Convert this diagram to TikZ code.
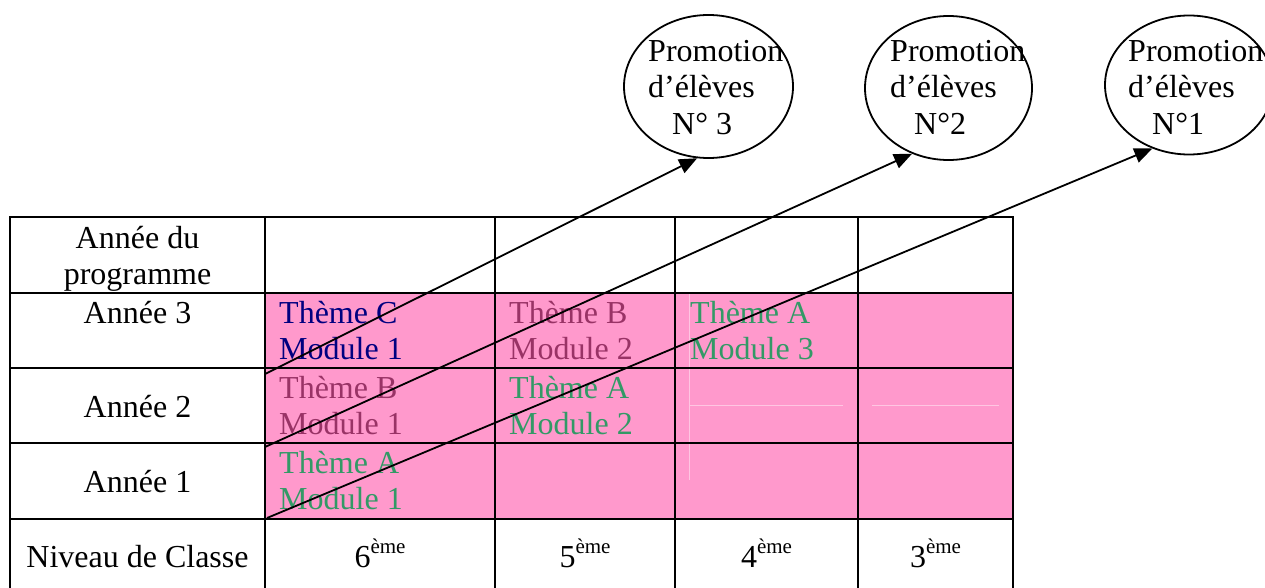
\documentclass[tikz,border=0pt]{standalone}
\usepackage{fontspec}
\setmainfont{Liberation Serif}
\usetikzlibrary{arrows.meta,shapes.geometric}
\definecolor{pinkfill}{HTML}{FF99CC}
\definecolor{navytxt}{HTML}{000080}
\definecolor{plumtxt}{HTML}{993366}
\definecolor{greentxt}{HTML}{339966}
\definecolor{faintline}{HTML}{FFC6E2}
\newcommand{\eme}{\raisebox{14pt}{\fontsize{21}{21}\selectfont ème}}
\begin{document}
\begin{tikzpicture}[x=1pt,y=-1pt,
  txt/.style={inner sep=0pt,font=\fontsize{32}{37}\selectfont},
  lft/.style={txt,anchor=base west},
  ctr/.style={txt,anchor=base},
  gridline/.style={line width=2pt,line cap=rect},
  promo/.style={draw,ellipse,line width=1.8pt,inner sep=0pt,minimum height=143pt},
  arr/.style={line width=1.8pt,-{Triangle[length=18pt,width=15pt]}},
  faint/.style={faintline,line width=0.8pt}
]
\useasboundingbox (0,0) rectangle (1265,588);

% pink area
\fill[pinkfill] (265,293) rectangle (1013,519);
\draw[faint] (689,294) -- (689,480);
\draw[faint] (689,405) -- (843,405);
\draw[faint] (872,405) -- (999,405);

% promotion ellipses
\node[promo,minimum width=169pt] (c1) at (708.5,86.5) {};
\node[promo,minimum width=167pt,minimum height=144pt] (c2) at (948.5,88) {};
\node[promo,minimum width=168pt,minimum height=139pt] (c3) at (1189,85) {};

\node[lft] (c1a) at (648,62) {Promotion};
\node[lft] (c1b) at (648,98) {d’élèves};
\node[lft] (c1c) at (672,135) {N° 3};
\node[lft] (c2a) at (890,62) {Promotion};
\node[lft] (c2b) at (890,98) {d’élèves};
\node[lft] (c2c) at (914,135) {N°2};
\node[lft] (c3a) at (1128,62) {Promotion};
\node[lft] (c3b) at (1128,98) {d’élèves};
\node[lft] (c3c) at (1152,135) {N°1};

% first column
\node[ctr] (h1) at (137.5,248) {Année du};
\node[ctr] (h2) at (137.5,284) {programme};
\node[ctr] (y3) at (137.5,323) {Année 3};
\node[ctr] (y2) at (137.5,417) {Année 2};
\node[ctr] (y1) at (137.5,492) {Année 1};
\node[ctr] (niv) at (137.5,567) {Niveau de Classe};

% cells
\node[lft,text=navytxt] (a3t) at (279,323) {Thème C};
\node[lft,text=navytxt] (a3m) at (279,359) {Module 1};
\node[lft,text=plumtxt] (a2t) at (279,398) {Thème B};
\node[lft,text=plumtxt] (a2m) at (279,434.5) {Module 1};
\node[lft,text=greentxt] (a1t) at (279,473) {Thème A};
\node[lft,text=greentxt] (a1m) at (279,509.5) {Module 1};
\node[lft,text=plumtxt] (b3t) at (509,323) {Thème B};
\node[lft,text=plumtxt] (b3m) at (509,359) {Module 2};
\node[lft,text=greentxt] (b2t) at (509,398) {Thème A};
\node[lft,text=greentxt] (b2m) at (509,434.5) {Module 2};
\node[lft,text=greentxt] (c3t) at (690,323) {Thème A};
\node[lft,text=greentxt] (c3m) at (690,359) {Module 3};

% class levels
\node[ctr] (l6) at (380,567) {6\eme};
\node[ctr] (l5) at (585,567) {5\eme};
\node[ctr] (l4) at (766.5,567) {4\eme};
\node[ctr] (l3) at (935.5,567) {3\eme};

% grid
\foreach \yy in {217,293,368,443,519}
  \draw[gridline] (10,\yy) -- (1013,\yy);
\foreach \xx in {10,265,495,675,858,1013}
  \draw[gridline] (\xx,217) -- (\xx,592);

% arrows
\coordinate (s1) at (265,374);
\coordinate (s2) at (265,447);
\coordinate (s3) at (267,518);
\draw[arr] (s1) -- (c1.261);
\draw[arr] (s2) -- (c2.241);
\draw[arr] (s3) -- (c3.240);
\end{tikzpicture}
\end{document}
